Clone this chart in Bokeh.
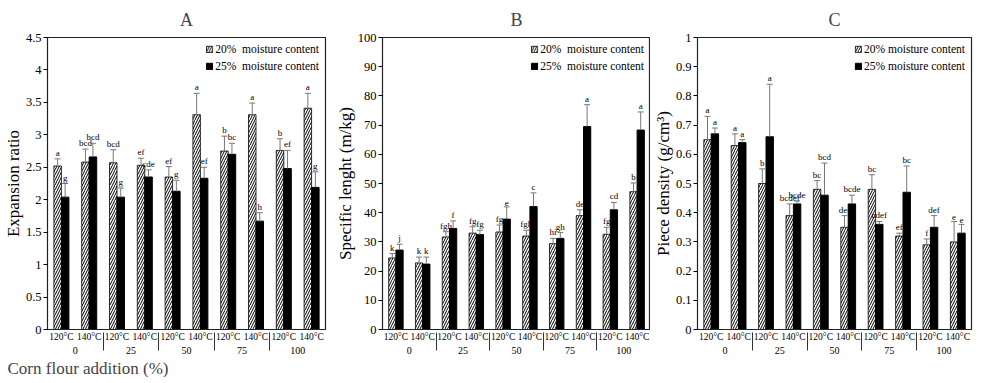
from bokeh.plotting import figure
from bokeh.models import (FactorRange, Range1d, Legend, LegendItem, Title,
                          ColumnDataSource, FixedTicker, CustomJSTickFormatter)
from bokeh.transform import dodge
from bokeh.layouts import row
from bokeh.embed import file_html
from bokeh.resources import INLINE
from bokeh.core.properties import value

# ---------------- data ----------------
groups = ["0", "25", "50", "75", "100"]
temps = ["120°C", "140°C"]
series_labels = ["20%  moisture content", "25%  moisture content"]

# A: Expansion ratio
a_m20 = [2.52, 2.58, 2.57, 2.53, 2.35, 3.31, 2.75, 3.31, 2.76, 3.41]
a_m20_err = [0.11, 0.20, 0.20, 0.11, 0.16, 0.33, 0.23, 0.18, 0.18, 0.23]
a_m20_let = ["a", "bcd", "bcd", "ef", "ef", "a", "b", "a", "b", "a"]
a_m25 = [2.04, 2.66, 2.04, 2.35, 2.13, 2.33, 2.70, 1.67, 2.48, 2.19]
a_m25_err = [0.21, 0.21, 0.14, 0.11, 0.17, 0.17, 0.17, 0.13, 0.28, 0.24]
a_m25_let = ["g", "bcd", "g", "cde", "g", "ef", "bc", "h", "ef", "g"]

# B: Specific length
b_m20 = [24.5, 22.8, 31.7, 33.0, 33.4, 32.0, 29.4, 39.0, 32.6, 47.2]
b_m20_err = [1.5, 2.0, 1.8, 2.2, 2.4, 2.0, 1.8, 2.0, 2.4, 3.0]
b_m20_let = ["k", "k", "fgh", "fg", "fg", "fgh", "hi", "de", "fg", "b"]
b_m25 = [27.2, 22.4, 34.6, 32.5, 37.8, 42.1, 31.2, 69.5, 41.0, 68.3]
b_m25_err = [2.0, 2.4, 2.6, 1.5, 4.2, 4.7, 2.0, 7.5, 2.5, 6.2]
b_m25_let = ["j", "k", "f", "fg", "e", "c", "gh", "a", "cd", "a"]

# C: Piece density
c_m20 = [0.65, 0.63, 0.50, 0.39, 0.48, 0.35, 0.48, 0.32, 0.29, 0.30]
c_m20_err = [0.08, 0.04, 0.05, 0.04, 0.03, 0.04, 0.05, 0.01, 0.02, 0.07]
c_m20_let = ["a", "a", "b", "bcdef", "bc", "def", "bc", "ef", "f", "e"]
c_m25 = [0.67, 0.64, 0.66, 0.43, 0.46, 0.43, 0.36, 0.47, 0.35, 0.33]
c_m25_err = [0.02, 0.01, 0.18, 0.01, 0.11, 0.03, 0.01, 0.09, 0.04, 0.03]
c_m25_let = ["a", "a", "a", "bcde", "bcd", "bcde", "cdef", "bc", "def", "e"]

a_ticks = [0, 0.5, 1, 1.5, 2, 2.5, 3, 3.5, 4, 4.5]
b_ticks = [0, 10, 20, 30, 40, 50, 60, 70, 80, 90, 100]
c_ticks = [0, 0.1, 0.2, 0.3, 0.4, 0.5, 0.6, 0.7, 0.8, 0.9, 1]

FONT = "Liberation Serif"
factors = [(g, t) for g in groups for t in temps]
BW = 0.27


def panel(title, ylabel, ticks, m20, e20, l20, m25, e25, l25, labels,
          fw, mbr, xlabel=None):
    p = figure(frame_width=fw, frame_height=292, output_backend="svg",
               toolbar_location=None,
               x_range=FactorRange(*factors, group_padding=0, factor_padding=0,
                                   range_padding=0),
               y_range=Range1d(ticks[0], ticks[-1]),
               min_border_left=0, min_border_right=mbr,
               min_border_top=0, min_border_bottom=0)
    p.title.text = title
    p.title.align = "center"
    p.title.text_font = FONT
    p.title.text_font_size = "18px"
    p.title.text_font_style = "normal"
    p.title.standoff = 15
    p.xgrid.visible = False
    p.ygrid.visible = False
    p.outline_line_color = "#222222"
    p.outline_line_width = 1.2

    src = ColumnDataSource(dict(
        x=factors, m20=m20, m25=m25,
        t20=[v + e for v, e in zip(m20, e20)],
        t25=[v + e for v, e in zip(m25, e25)],
        l20=l20, l25=l25))

    r20 = p.vbar(x=dodge("x", -BW / 2, range=p.x_range), top="m20", width=BW,
                 source=src, fill_color="white", line_color="black", line_width=0.8,
                 hatch_pattern="/", hatch_color="black", hatch_scale=5,
                 hatch_weight=1)
    r25 = p.vbar(x=dodge("x", BW / 2, range=p.x_range), top="m25", width=BW,
                 source=src, fill_color="black", line_color="black")

    for off, top, base, lab in ((-BW / 2, "t20", "m20", "l20"),
                                (BW / 2, "t25", "m25", "l25")):
        p.segment(x0=dodge("x", off, range=p.x_range), x1=dodge("x", off, range=p.x_range),
                  y0=base, y1=top, source=src, line_color="#777777", line_width=1)
        p.segment(x0=dodge("x", off - 0.11, range=p.x_range),
                  x1=dodge("x", off + 0.11, range=p.x_range),
                  y0=top, y1=top, source=src, line_color="#777777", line_width=1)
        p.text(x=dodge("x", off, range=p.x_range), y=top, text=lab, source=src,
               text_font=value(FONT), text_font_size="9px", text_align="center",
               text_baseline="bottom", y_offset=-1, text_color="black")

    leg = Legend(items=[LegendItem(label=labels[0], renderers=[r20]),
                        LegendItem(label=labels[1], renderers=[r25])],
                 location="top_right", border_line_color=None,
                 background_fill_alpha=0, glyph_width=8, glyph_height=8,
                 label_text_font=FONT, label_text_font_size="11.5px",
                 label_text_color="black",
                 label_standoff=2, spacing=5, padding=2, margin=6,
                 label_height=12)
    p.add_layout(leg)

    ya = p.yaxis[0]
    ya.ticker = FixedTicker(ticks=ticks)
    ya.formatter = CustomJSTickFormatter(code="return tick.toString()")
    ya.axis_label = ylabel
    ya.axis_label_text_font = FONT
    ya.axis_label_text_font_style = "normal"
    ya.axis_label_text_font_size = "17px"
    ya.axis_label_text_color = "black"
    ya.axis_label_standoff = 0
    ya.major_label_text_font = FONT
    ya.major_label_text_font_size = "12.5px"
    ya.major_label_text_color = "black"
    ya.major_label_standoff = 2
    ya.major_tick_in = 0
    ya.major_tick_out = 4
    ya.minor_tick_line_color = None
    ya.axis_line_color = "#222222"

    xa = p.xaxis[0]
    xa.major_tick_line_color = None
    xa.major_tick_out = 0
    xa.major_tick_in = 0
    xa.minor_tick_line_color = None
    xa.axis_line_color = "#222222"
    xa.major_label_text_font = FONT
    xa.major_label_text_font_size = "9.5px"
    xa.major_label_text_color = "black"
    xa.major_label_standoff = 2
    xa.group_text_font = FONT
    xa.group_text_font_size = "10px"
    xa.group_text_font_style = "normal"
    xa.group_text_color = "black"
    xa.separator_line_color = "#333333"
    xa.separator_line_width = 1

    if xlabel:
        t = Title(text=xlabel, align="left", text_font=FONT, text_font_size="17px",
                  text_font_style="normal", offset=-40, standoff=0)
        p.add_layout(t, "below")
    return p


pa = panel("A", "Expansion ratio", a_ticks, a_m20, a_m20_err, a_m20_let,
           a_m25, a_m25_err, a_m25_let, series_labels, 278, 7,
           xlabel="Corn flour addition (%)")
pb = panel("B", "Specific lenght (m/kg)", b_ticks, b_m20, b_m20_err, b_m20_let,
           b_m25, b_m25_err, b_m25_let, series_labels, 268, 0)
pc = panel("C", "Piece density (g/cm³)", c_ticks, c_m20, c_m20_err, c_m20_let,
           c_m25, c_m25_err, c_m25_let,
           ["20% moisture content", "25% moisture content"], 274, 2)

layout = row(pa, pb, pc)
open("out.html", "w").write(file_html(layout, INLINE))
